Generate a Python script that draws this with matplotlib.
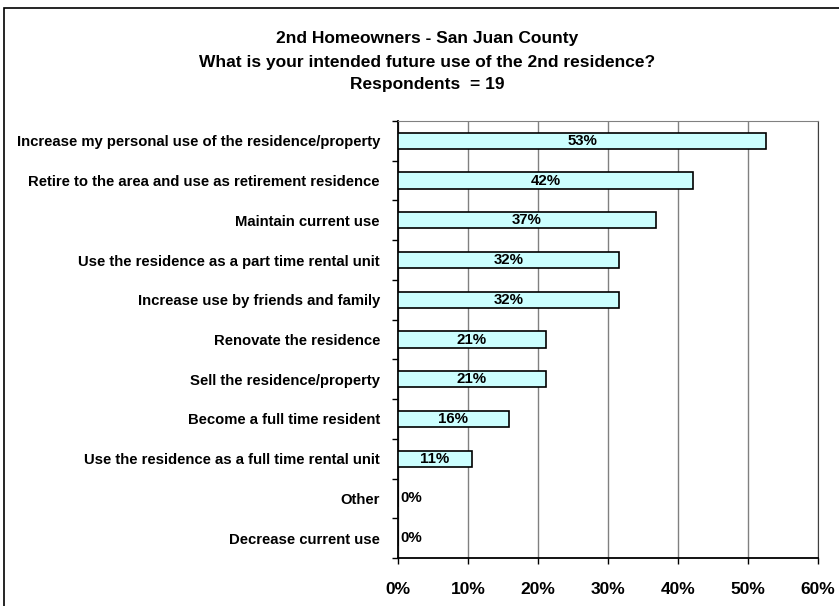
import numpy as np
import matplotlib
matplotlib.use("Agg")
import matplotlib.pyplot as plt
from matplotlib.patches import Rectangle

# Survey answers, top to bottom as in the chart
categories = [
    "Increase my personal use of the residence/property",
    "Retire to the area and use as retirement residence",
    "Maintain current use",
    "Use the residence as a part time rental unit",
    "Increase use by friends and family",
    "Renovate the residence",
    "Sell the residence/property",
    "Become a full time resident",
    "Use the residence as a full time rental unit",
    "Other",
    "Decrease current use",
]
percent = [52.6, 42.1, 36.8, 31.6, 31.6, 21.1, 21.1, 15.8, 10.53, 0.0, 0.0]
xticks = [0, 10, 20, 30, 40, 50, 60]

plt.rcParams['font.family'] = ['Liberation Sans', 'DejaVu Sans']
plt.rcParams['font.weight'] = 'bold'

W, H = 839, 606
fig = plt.figure(figsize=(W / 100, H / 100), dpi=100)
ax = fig.add_axes([398 / W, 1 - 558 / H, (818 - 398) / W, (558 - 121) / H])

y = np.arange(len(categories))
ax.barh(y, percent, height=0.41, color='#ccffff', edgecolor='black', linewidth=1.2, zorder=3)

for yi, v in zip(y, percent):
    if v > 0:
        ax.text(v / 2, yi, f"{round(v)}%", ha='center', va='center', fontsize=10.8,
                fontweight='bold', zorder=4)
    else:
        ax.text(0.3, yi, "0%", ha='left', va='center', fontsize=10.8,
                fontweight='bold', zorder=4)

ax.set_xlim(0, 60)
ax.set_ylim(len(categories) - 0.5, -0.5)
ax.set_xticks(xticks)
ax.set_xticklabels([f"{t}%" for t in xticks], fontsize=12.5, fontweight='bold')
ax.tick_params(axis='x', direction='out', length=4, width=1, pad=13)
ax.xaxis.grid(True, color='#808080', linewidth=1, zorder=0)

ax.set_yticks(y)
ax.set_yticklabels(categories, fontsize=10.7, fontweight='bold')
ax.set_yticks(np.arange(len(categories) + 1) - 0.5, minor=True)
ax.tick_params(axis='y', which='major', length=0, pad=13)
ax.tick_params(axis='y', which='minor', direction='out', length=4, width=1)

for side in ['left', 'bottom']:
    ax.spines[side].set_linewidth(1.3)
ax.spines['top'].set_color('#808080')
ax.spines['right'].set_color('#404040')

fig.text(427 / W, 1 - 38 / H, "2nd Homeowners - San Juan County", ha='center', va='center',
         fontsize=12.5, fontweight='bold')
fig.text(427 / W, 1 - 62 / H, "What is your intended future use of the 2nd residence?",
         ha='center', va='center', fontsize=12.5, fontweight='bold')
fig.text(427 / W, 1 - 85 / H, "Respondents  = 19", ha='center', va='center',
         fontsize=12.5, fontweight='bold')

# outer chart border
fig.patches.append(Rectangle((4 / W, -0.05), 1.0, 1 - 8 / H + 0.05, transform=fig.transFigure,
                             fill=False, edgecolor='black', linewidth=1.2))

fig.savefig("out.png", dpi=100)
